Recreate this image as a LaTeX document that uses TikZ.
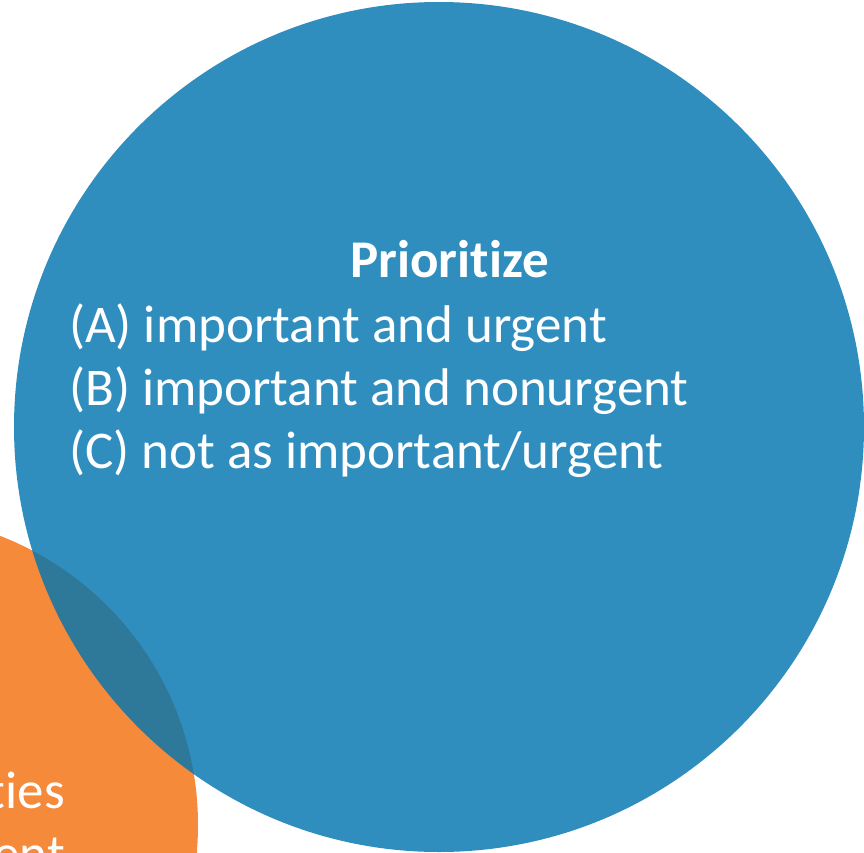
\documentclass[tikz,border=0pt]{standalone}
\usepackage{fontspec}
\setmainfont{Carlito}[Ligatures=NoCommon]
\definecolor{prioblue}{RGB}{0,116,176}
\definecolor{listorange}{RGB}{245,138,59}
\begin{document}
\begin{tikzpicture}[x=1pt,y=-1pt,
  bodytext/.style={text=white,inner sep=0pt,font=\fontsize{53}{63}\selectfont},
  headtext/.style={bodytext,font=\fontsize{53}{63}\selectfont\bfseries}]
  \useasboundingbox (0,0) rectangle (864,853);
  \clip (0,0) rectangle (864,853);
  % orange circle (partly off the page) and its text
  \fill[listorange] (-112,825) circle[radius=310];
  \node[bodytext,anchor=base east] (t1) at (65,808) {ties};
  \node[bodytext,anchor=base east] (t2) at (65,871) {ent};
  % translucent blue circle on top
  \fill[prioblue,fill opacity=0.81] (439,427) circle[radius=425];
  \node[headtext,anchor=base west] (head) at (350,277) {Prioritize};
  \node[bodytext,anchor=base west] (la) at (69,342) {(A) important and urgent};
  \node[bodytext,anchor=base west] (lb) at (69,405) {(B) important and nonurgent};
  \node[bodytext,anchor=base west] (lc) at (69,468) {(C) not as important/urgent};
\end{tikzpicture}
\end{document}
